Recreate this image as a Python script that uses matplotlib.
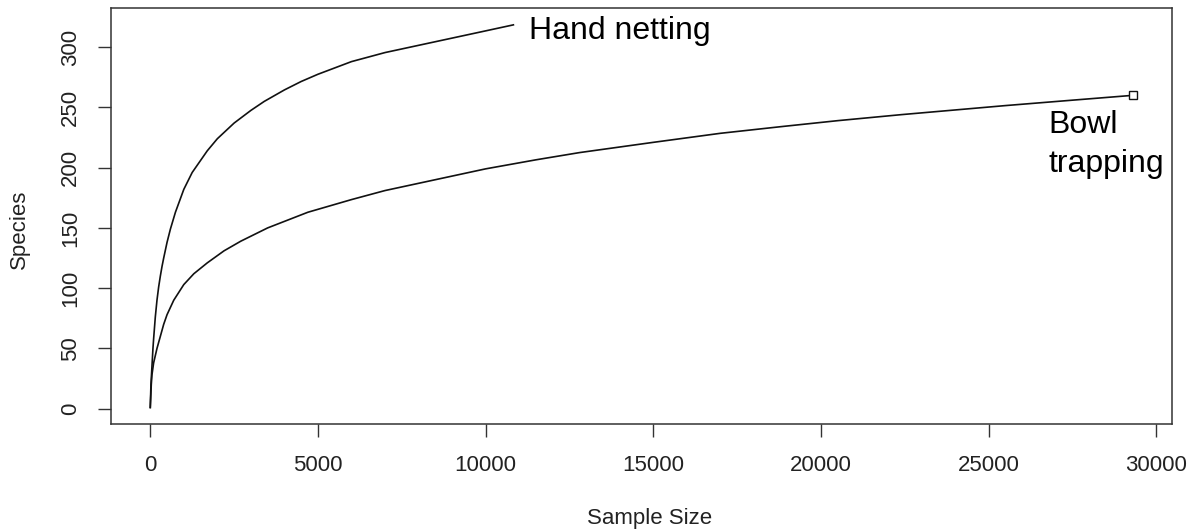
import matplotlib
matplotlib.use("Agg")
import matplotlib.pyplot as plt

plt.rcParams['font.family'] = ['Liberation Sans', 'DejaVu Sans']

# Hand netting rarefaction curve (sample size, species)
hand_x = [0, 20, 50, 80, 100, 150, 200, 250, 300, 350, 400, 500, 600, 750, 1000,
          1250, 1700, 2000, 2500, 3000, 3400, 4000, 4500, 5000, 6000, 7000, 7500,
          8000, 9000, 9500, 10000, 10830]
hand_y = [1, 20, 35, 50, 58, 76, 90, 101, 110, 118, 125, 138, 149, 163, 182,
          196, 214, 224, 237, 247.5, 255, 264.5, 271.5, 277.5, 288, 295.5, 298.5,
          301.5, 307.5, 310.5, 313.5, 318.5]

# Bowl trapping rarefaction curve
bowl_x = [0, 30, 50, 100, 200, 300, 400, 500, 700, 1000, 1300, 1700, 2200, 2700,
          3500, 4700, 6000, 7000, 8500, 10000, 11500, 12800, 15000, 17000, 18800,
          20500, 22400, 25500, 27500, 29300]
bowl_y = [1, 20, 28, 38, 50, 60, 70, 78, 90, 103, 112, 121, 131, 139,
          150, 163, 173.5, 181, 190, 199, 206.5, 212.5, 221, 228.5, 234,
          239, 244, 251.5, 256, 260]

x_ticks = [0, 5000, 10000, 15000, 20000, 25000, 30000]
y_ticks = [0, 50, 100, 150, 200, 250, 300]

TXT = '#222222'

fig = plt.figure(figsize=(11.92, 5.29), dpi=100)
ax = fig.add_axes([0.0931, 0.1985, 0.8901, 0.7864])

ax.plot(hand_x, hand_y, color='#111111', lw=1.2, solid_joinstyle='round')
ax.plot(bowl_x, bowl_y, color='#111111', lw=1.2, solid_joinstyle='round')
ax.plot([bowl_x[-1]], [bowl_y[-1]], marker='s', mfc='white', mec='#111111',
        ms=6, mew=1.0, ls='none')

ax.text(11302, 306.6, 'Hand netting', fontsize=23, color='black',
        ha='left', va='baseline')
ax.text(26780, 228.9, 'Bowl', fontsize=23, color='black', ha='left', va='baseline')
ax.text(26780, 196.5, 'trapping', fontsize=23, color='black', ha='left', va='baseline')

ax.set_xlim(-1172, 30472)
ax.set_ylim(-12.7, 332.5)
ax.set_xticks(x_ticks)
ax.set_yticks(y_ticks)
ax.set_xticklabels([str(v) for v in x_ticks])
ax.set_yticklabels([str(v) for v in y_ticks], rotation=90, va='center')

ax.tick_params(axis='both', length=9.4, width=1.0, color='#333333',
               labelsize=16, labelcolor=TXT)
ax.tick_params(axis='x', pad=13)
ax.tick_params(axis='y', pad=12)

for s in ax.spines.values():
    s.set_color('#333333')
    s.set_linewidth(1.1)

ax.set_xlabel('Sample Size', fontsize=16, color=TXT)
ax.xaxis.set_label_coords(0.508, -0.202)
ax.set_ylabel('Species', fontsize=16, color=TXT)
ax.yaxis.set_label_coords(-0.0763, 0.469)

fig.savefig('out.png', dpi=100, facecolor='white')
